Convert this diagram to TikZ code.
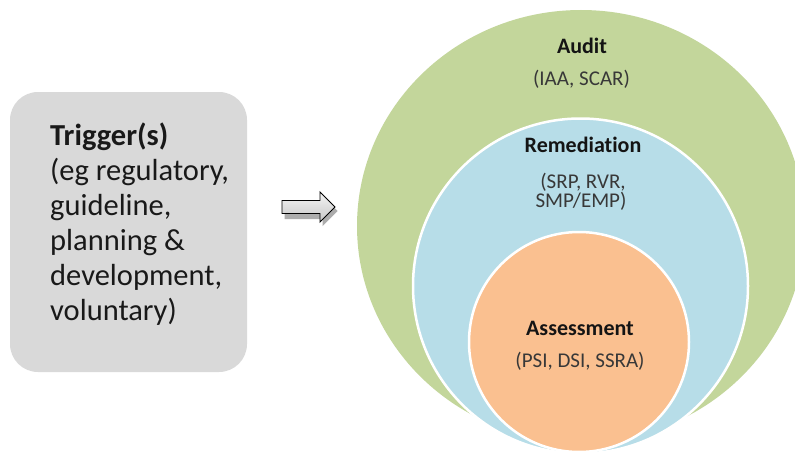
\documentclass[tikz,border=0pt]{standalone}
\usepackage{fontspec}
\usetikzlibrary{shapes.geometric}
\setmainfont[Ligatures={NoCommon}]{Carlito}
\begin{document}
\begin{tikzpicture}[x=1pt,y=-1pt,
  triggerbox/.style={draw=none,fill=boxgray,rounded corners=28pt,minimum width=237pt,minimum height=280pt,inner sep=0pt},
  trigline/.style={anchor=base west,inner sep=0pt,font=\fontsize{30.5}{35}\selectfont,text=black!90},
  ring/.style={circle,inner sep=0pt},
  ringtitle/.style={anchor=base,inner sep=0pt,font=\fontsize{22}{24}\selectfont\bfseries,text=black!92},
  ringsub/.style={anchor=base,inner sep=0pt,font=\fontsize{21}{22}\selectfont,text=black!78}]
\definecolor{boxgray}{HTML}{D9D9D9}
\definecolor{auditgreen}{HTML}{C3D69B}
\definecolor{remedblue}{HTML}{B7DDE8}
\definecolor{assessorange}{HTML}{FAC090}
\clip (0,0) rectangle (795,452);
\fill[white] (0,0) rectangle (795,452);

% trigger panel
\node[triggerbox] (trig) at (128.5,232) {};
\node[trigline,font=\fontsize{30.5}{35}\selectfont\bfseries] (t1) at (50,145) {Trigger(s)};
\node[trigline] (t2) at (50,180) {(eg regulatory,};
\node[trigline] (t3) at (50,215) {guideline,};
\node[trigline] (t4) at (50,250) {planning \&};
\node[trigline] (t5) at (50,285) {development,};
\node[trigline] (t6) at (50,320) {voluntary)};

% block arrow with shadow
\coordinate (ar) at (282,207);
\begin{scope}[shift={(ar)}]
  \fill[gray!65] (2.5,-4) -- ++(38,0) -- ++(0,-7) -- ++(15,15) -- ++(-15,15) -- ++(0,-7) -- ++(-38,0) -- cycle;
\end{scope}
\begin{scope}[shift={(ar)}]
  \draw[line width=0.9pt,top color=gray!8,bottom color=gray!45,shading angle=0]
    (0,-6.5) -- (38,-6.5) -- (38,-15) -- (53,0) -- (38,15) -- (38,6.5) -- (0,6.5) -- cycle;
\end{scope}

% nested rings
\node[ellipse,inner sep=0pt,fill=auditgreen,minimum width=448pt,minimum height=432pt] (audit) at (581,226) {};
\node[ring,fill=remedblue,draw=white,line width=2.5pt,minimum size=335pt] (remed) at (580.5,286) {};
\node[ring,fill=assessorange,draw=white,line width=2.5pt,minimum size=220pt] (assess) at (579,342) {};

\node[ringtitle] (audt) at (582,53) {Audit};
\node[ringsub] (auds) at (581.5,85) {(IAA, SCAR)};
\node[ringtitle] (remt) at (583,152) {Remediation};
\node[ringsub] (rems1) at (583,188) {(SRP, RVR,};
\node[ringsub] (rems2) at (581,207) {SMP/EMP)};
\node[ringtitle] (asst) at (580,335) {Assessment};
\node[ringsub] (asss) at (580,367) {(PSI, DSI, SSRA)};
\end{tikzpicture}
\end{document}
